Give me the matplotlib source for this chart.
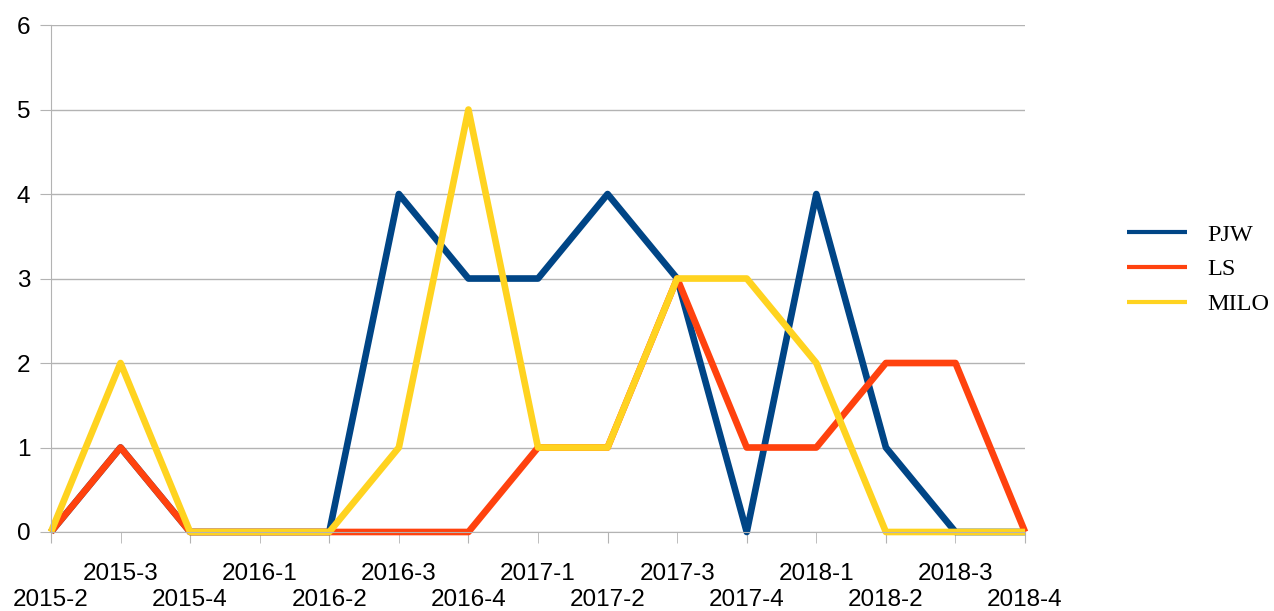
import matplotlib.pyplot as plt

categories = ['2015-2', '2015-3', '2015-4', '2016-1', '2016-2', '2016-3', '2016-4',
              '2017-1', '2017-2', '2017-3', '2017-4', '2018-1', '2018-2', '2018-3', '2018-4']
pjw = [0, 1, 0, 0, 0, 4, 3, 3, 4, 3, 0, 4, 1, 0, 0]
ls = [0, 1, 0, 0, 0, 0, 0, 1, 1, 3, 1, 1, 2, 2, 0]
milo = [0, 2, 0, 0, 0, 1, 5, 1, 1, 3, 3, 2, 0, 0, 0]

series = [('PJW', pjw, '#004586'), ('LS', ls, '#ff420e'), ('MILO', milo, '#ffd320')]

fig = plt.figure(figsize=(12.74, 6.11), dpi=100)
ax = fig.add_axes([0.040, 0.1293, 0.7646, 0.8297])

x = list(range(len(categories)))
for name, vals, col in series:
    ax.plot(x, vals, color=col, linewidth=4.8, label=name,
            solid_joinstyle='round', solid_capstyle='butt', clip_on=False)

ax.set_xlim(0, len(categories) - 1)
ax.set_ylim(0, 6)
ax.set_yticks(range(7))
ax.yaxis.grid(True, color='#b3b3b3', linewidth=1)
ax.set_axisbelow(True)

# staggered category labels: even ones on lower row, odd ones on upper row
ax.set_xticks(x[0::2])
ax.set_xticklabels(categories[0::2])
ax.set_xticks(x[1::2], minor=True)
ax.set_xticklabels(categories[1::2], minor=True)

for s in ['top', 'right']:
    ax.spines[s].set_visible(False)
for s in ['left', 'bottom']:
    ax.spines[s].set_color('#b3b3b3')

ax.tick_params(axis='x', which='major', length=8, color='#b3b3b3', pad=33,
               labelsize=17.5)
ax.tick_params(axis='x', which='minor', length=8, color='#b3b3b3', pad=14,
               labelsize=17.5)
ax.tick_params(axis='y', length=8, color='#b3b3b3', pad=7, labelsize=17.5)
for lab in ax.get_xticklabels(minor=True) + ax.get_xticklabels() + ax.get_yticklabels():
    lab.set_fontfamily('Liberation Sans')

leg = ax.legend(loc='center left', bbox_to_anchor=(1.1045, 0.518), frameon=False,
                prop={'family': 'Liberation Serif', 'size': 17.5},
                handlelength=2.47, handletextpad=0.82, labelspacing=0.53,
                borderpad=0, borderaxespad=0)
for h in leg.get_lines():
    h.set_linewidth(3)

plt.savefig('out.png', dpi=100)
